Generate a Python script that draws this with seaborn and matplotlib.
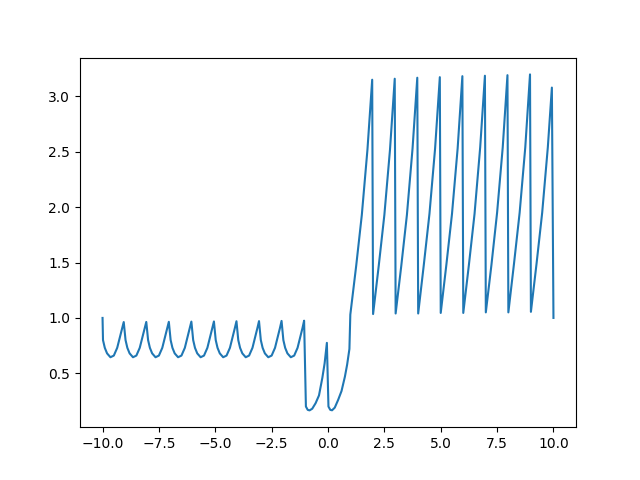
import numpy as np
import pandas as pd
import matplotlib
matplotlib.use("Agg")
import matplotlib.pyplot as plt
import seaborn as sns

# left part: bumpy periodic section, x in [-10, -1]
x_left = [
    -10.0, -9.98, -9.9, -9.8, -9.65, -9.5, -9.35, -9.2, -9.13, -9.06,
    -8.98, -8.9, -8.8, -8.65, -8.5, -8.35, -8.2, -8.13, -8.06,
    -7.98, -7.9, -7.8, -7.65, -7.5, -7.35, -7.2, -7.13, -7.06,
    -6.98, -6.9, -6.8, -6.65, -6.5, -6.35, -6.2, -6.13, -6.06,
    -5.98, -5.9, -5.8, -5.65, -5.5, -5.35, -5.2, -5.13, -5.06,
    -4.98, -4.9, -4.8, -4.65, -4.5, -4.35, -4.2, -4.13, -4.06,
    -3.98, -3.9, -3.8, -3.65, -3.5, -3.35, -3.2, -3.13, -3.06,
    -2.98, -2.9, -2.8, -2.65, -2.5, -2.35, -2.2, -2.13, -2.06,
    -1.98, -1.9, -1.8, -1.65, -1.5, -1.35, -1.2, -1.13, -1.06,
]
y_left = [
    1.00, 0.80, 0.73, 0.68, 0.645, 0.66, 0.73, 0.85, 0.91, 0.963,
    0.80, 0.73, 0.68, 0.645, 0.66, 0.73, 0.85, 0.91, 0.964,
    0.80, 0.73, 0.68, 0.645, 0.66, 0.73, 0.85, 0.91, 0.965,
    0.80, 0.73, 0.68, 0.645, 0.66, 0.73, 0.85, 0.91, 0.967,
    0.80, 0.73, 0.68, 0.645, 0.66, 0.73, 0.85, 0.91, 0.968,
    0.80, 0.73, 0.68, 0.645, 0.66, 0.73, 0.85, 0.91, 0.970,
    0.80, 0.73, 0.68, 0.645, 0.66, 0.73, 0.85, 0.91, 0.971,
    0.80, 0.73, 0.68, 0.645, 0.66, 0.73, 0.85, 0.91, 0.973,
    0.80, 0.73, 0.68, 0.645, 0.66, 0.73, 0.85, 0.91, 0.975,
]

# middle part: two deep dips, x in [-1, 1]
x_mid = [-0.98, -0.9, -0.82, -0.7, -0.55, -0.4, -0.25, -0.15, -0.05,
         0.02, 0.1, 0.18, 0.3, 0.45, 0.6, 0.75, 0.85, 0.95]
y_mid = [0.20, 0.17, 0.165, 0.18, 0.23, 0.30, 0.46, 0.59, 0.775,
         0.20, 0.17, 0.166, 0.19, 0.26, 0.34, 0.47, 0.58, 0.72]

# right part: sawtooth, x in [1, 10]
x_right = [
    0.99, 1.25, 1.5, 1.75, 1.96,
    2.0, 2.25, 2.5, 2.75, 2.96,
    3.0, 3.25, 3.5, 3.75, 3.96,
    4.0, 4.25, 4.5, 4.75, 4.96,
    5.0, 5.25, 5.5, 5.75, 5.96,
    6.0, 6.25, 6.5, 6.75, 6.96,
    7.0, 7.25, 7.5, 7.75, 7.96,
    8.0, 8.25, 8.5, 8.75, 8.96,
    9.0, 9.25, 9.5, 9.75, 9.93, 10.0,
]
y_right = [
    1.03, 1.47, 1.93, 2.52, 3.151,
    1.035, 1.47, 1.93, 2.52, 3.160,
    1.04, 1.47, 1.93, 2.53, 3.169,
    1.04, 1.48, 1.94, 2.53, 3.174,
    1.045, 1.48, 1.94, 2.53, 3.183,
    1.045, 1.48, 1.94, 2.54, 3.187,
    1.05, 1.48, 1.95, 2.54, 3.192,
    1.05, 1.49, 1.95, 2.54, 3.199,
    1.055, 1.49, 1.95, 2.54, 3.08, 1.00,
]

df = pd.DataFrame({
    "x": x_left + x_mid + x_right,
    "y": y_left + y_mid + y_right,
})

fig, ax = plt.subplots(figsize=(6.4, 4.8), dpi=100)
sns.lineplot(data=df, x="x", y="y", estimator=None, sort=False, ax=ax, color="#1f77b4", linewidth=1.5)
ax.set_xlabel("")
ax.set_ylabel("")

fig.savefig("out.png")
